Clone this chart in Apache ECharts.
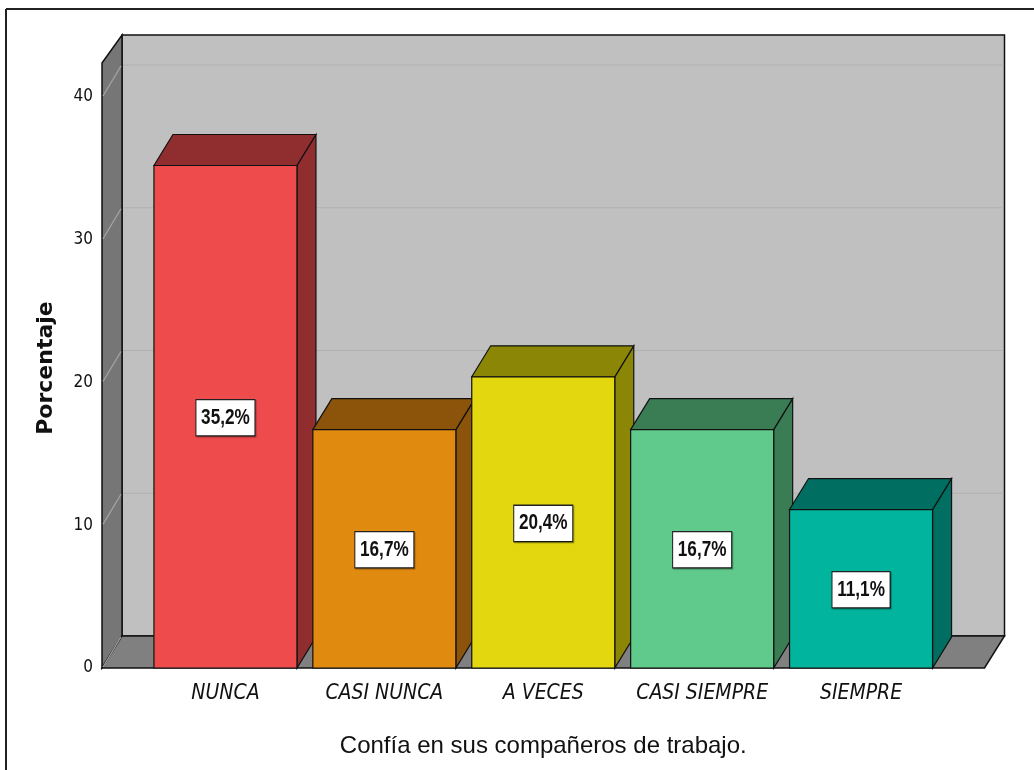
<!DOCTYPE html>
<html>
<head>
<meta charset="utf-8">
<script src="https://cdn.jsdelivr.net/npm/echarts@6/dist/echarts.min.js"></script>
<style>
html,body{margin:0;padding:0;background:#fff;}
#chart{width:1034px;height:770px;}
</style>
</head>
<body>
<div id="chart"></div>
<script>
// ---- data ----
const CATEGORIES = ['NUNCA', 'CASI NUNCA', 'A VECES', 'CASI SIEMPRE', 'SIEMPRE'];
const PERCENTS = [35.2, 16.7, 20.4, 16.7, 11.1];
const Y_TICKS = [0, 10, 20, 30, 40];
const X_TITLE = 'Confía en sus compañeros de trabajo.';
const Y_TITLE = 'Porcentaje';

// ---- styles ----
const FRONT = ['#EE4B4D', '#E08A10', '#E3D80F', '#5FCA8B', '#00B49D'];
const DARK = ['#902D2F', '#8B540A', '#8C8606', '#3A7D55', '#006F61'];
const COND = '"DejaVu Sans Condensed", "Liberation Sans Narrow", sans-serif';
const ARIAL = '"Liberation Sans", Arial, sans-serif';
const WALL_DX = 20, WALL_DY = -32;
const BAR_DX = 19, BAR_DY = -31;
const WALL_TOP = 42.1;
const SIDE_PAD = 44;

const chart = echarts.init(document.getElementById('chart'), null, {renderer: 'canvas'});

function renderWalls(params, api) {
  const cs = params.coordSys;
  const y0 = api.coord([0, 0])[1];
  const yT = api.coord([0, WALL_TOP])[1];
  const fx0 = cs.x - SIDE_PAD, fx1 = cs.x + cs.width + SIDE_PAD;
  const bx0 = fx0 + WALL_DX, bx1 = fx1 + WALL_DX;
  const children = [];
  // back wall
  children.push({type: 'rect', shape: {x: bx0, y: yT + WALL_DY, width: bx1 - bx0, height: (y0 + WALL_DY) - (yT + WALL_DY)},
    style: {fill: '#C0C0C0', stroke: '#111', lineWidth: 1.5}});
  // left wall
  children.push({type: 'polygon', shape: {points: [[fx0, yT - 4], [bx0, yT + WALL_DY], [bx0, y0 + WALL_DY], [fx0, y0]]},
    style: {fill: '#767676', stroke: '#111', lineWidth: 1.5}});
  // grid lines
  Y_TICKS.forEach(function (v) {
    const y = api.coord([0, v])[1];
    if (v > 0) {
      children.push({type: 'line', shape: {x1: bx0 + 1, y1: y + WALL_DY, x2: bx1 - 1, y2: y + WALL_DY},
        style: {stroke: '#B0B0B0', lineWidth: 1.2}});
    }
    children.push({type: 'line', shape: {x1: fx0 + 1, y1: y - 1, x2: bx0 - 1, y2: y + WALL_DY + 1},
      style: {stroke: '#A4A4A4', lineWidth: 1.3}});
  });
  // floor
  children.push({type: 'polygon', shape: {points: [[fx0, y0], [bx0, y0 + WALL_DY], [bx1, y0 + WALL_DY], [fx1, y0]]},
    style: {fill: '#808080', stroke: '#111', lineWidth: 1.5}});
  children.push({type: 'line', shape: {x1: fx0 + 1, y1: y0 - 1, x2: bx0 - 1, y2: y0 + WALL_DY + 1},
    style: {stroke: '#A4A4A4', lineWidth: 1.3}});
  return {type: 'group', children: children};
}

function fmt(v) { return v.toFixed(1).replace('.', ',') + '%'; }

function renderBar(params, api) {
  const i = params.dataIndex;
  const cat = api.value(0), val = api.value(1);
  const pTop = api.coord([cat, val]);
  const pBase = api.coord([cat, 0]);
  const w = api.size([1, 0])[0] * 0.9;
  const xl = pTop[0] - w / 2, xr = pTop[0] + w / 2;
  const yt = pTop[1], yb = pBase[1];
  const edge = {stroke: '#111', lineWidth: 1.2};
  return {type: 'group', children: [
    {type: 'polygon', shape: {points: [[xr, yt], [xr + BAR_DX, yt + BAR_DY], [xr + BAR_DX, yb + BAR_DY], [xr, yb]]},
      style: Object.assign({fill: DARK[i]}, edge)},
    {type: 'polygon', shape: {points: [[xl, yt], [xl + BAR_DX, yt + BAR_DY], [xr + BAR_DX, yt + BAR_DY], [xr, yt]]},
      style: Object.assign({fill: DARK[i]}, edge)},
    {type: 'rect', shape: {x: xl, y: yt, width: w, height: yb - yt},
      style: Object.assign({fill: FRONT[i]}, edge)},
    {type: 'text', x: pTop[0], y: (yt + yb) / 2 + 1, scaleX: 0.78,
      style: {text: fmt(val), align: 'center', verticalAlign: 'middle',
        fontFamily: ARIAL, fontWeight: 'bold', fontSize: 22, fill: '#111',
        backgroundColor: '#fff', borderColor: '#222', borderWidth: 1.3, padding: [7, 6, 6, 6],
        shadowColor: 'rgba(0,0,0,0.35)', shadowOffsetX: 1, shadowOffsetY: 1, shadowBlur: 1}}
  ]};
}

const option = {
  backgroundColor: '#fff',
  animation: false,
  grid: {left: 146, width: 794.5, top: 97, bottom: 102, containLabel: false},
  xAxis: {
    type: 'category', data: CATEGORIES,
    axisLine: {show: false}, axisTick: {show: false}, splitLine: {show: false},
    axisLabel: {interval: 0, margin: 15, fontFamily: COND, fontStyle: 'italic', fontSize: 21, color: '#111'},
    name: X_TITLE, nameLocation: 'middle', nameGap: 66,
    nameTextStyle: {fontFamily: ARIAL, fontSize: 24, color: '#111'}
  },
  yAxis: {
    type: 'value', min: 0, max: 40, interval: 10,
    axisLine: {show: false}, axisTick: {show: false}, splitLine: {show: false},
    axisLabel: {margin: 53, fontFamily: COND, fontSize: 17, color: '#111', padding: [9, 0, 0, 0],
      customValues: Y_TICKS}
  },
  graphic: [
    {type: 'line', shape: {x1: 6, y1: 9, x2: 1034, y2: 9}, style: {stroke: '#222', lineWidth: 2}},
    {type: 'line', shape: {x1: 6, y1: 9, x2: 6, y2: 770}, style: {stroke: '#222', lineWidth: 2}},
    {type: 'text', x: 46, y: 368, rotation: Math.PI / 2,
      style: {text: Y_TITLE, align: 'center', verticalAlign: 'middle', fontFamily: '"DejaVu Sans", sans-serif',
        fontWeight: 'bold', fontSize: 22, fill: '#111'}}
  ],
  series: [
    {type: 'custom', renderItem: renderWalls, data: [[0, 0]], silent: true, z: 1},
    {type: 'custom', renderItem: renderBar, z: 2,
      data: CATEGORIES.map(function (c, i) { return [i, PERCENTS[i]]; })}
  ]
};
chart.setOption(option);
</script>
</body>
</html>
